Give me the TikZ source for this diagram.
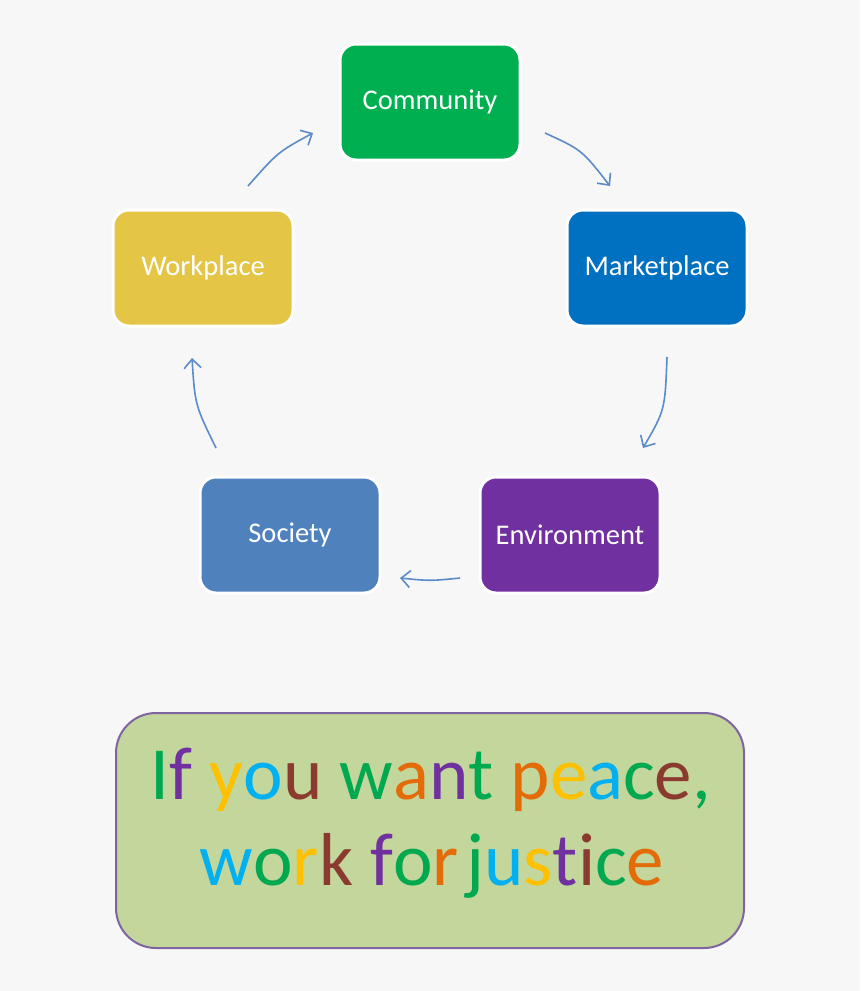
\documentclass[tikz,border=0pt]{standalone}
\usepackage{fontspec}
\setmainfont{Carlito}
\usetikzlibrary{arrows.meta}
\definecolor{bg}{HTML}{F7F7F7}
\definecolor{cgreen}{HTML}{00B050}
\definecolor{cblue}{HTML}{0070C0}
\definecolor{cyell}{HTML}{E5C546}
\definecolor{csoc}{HTML}{4F81BD}
\definecolor{cpurp}{HTML}{7030A0}
\definecolor{arr}{HTML}{5B8BC9}
\definecolor{pfill}{HTML}{C3D69B}
\definecolor{pline}{HTML}{8064A2}
\definecolor{lgreen}{HTML}{00A84F}
\definecolor{lpurp}{HTML}{7030A0}
\definecolor{lyell}{HTML}{FFC000}
\definecolor{lcyan}{HTML}{00B0F0}
\definecolor{lbrown}{HTML}{8B3A2F}
\definecolor{lorange}{HTML}{E36C09}
\newcommand{\cl}[2]{\textcolor{#1}{#2}}
\tikzset{
  stagebox/.style={draw=white, line width=3pt, rounded corners=16pt,
    minimum width=180pt, minimum height=116pt, text=white,
    font=\fontsize{28.5}{32}\selectfont},
  cyc/.style={draw=arr, line width=1.6pt, -{Straight Barb[length=9pt,width=17pt]}},
  quotetext/.style={anchor=base, font=\fontsize{75}{88}\selectfont},
}
\begin{document}
\begin{tikzpicture}[x=1pt,y=-1pt]
\fill[bg] (0,0) rectangle (860,991);
\useasboundingbox (0,0) rectangle (860,991);
\node[stagebox, fill=cgreen] (com) at (430,102) {Community};
\node[stagebox, fill=cblue] (mar) at (657,268) {Marketplace};
\node[stagebox, fill=cyell] (wor) at (203,268) {Workplace};
\node[stagebox, fill=csoc] (soc) at (290,535) {Society};
\node[stagebox, fill=cpurp] (env) at (570,535) {Environment};
\coordinate (a1s) at (248,186); \coordinate (a1e) at (313,133);
\coordinate (a2s) at (545,133); \coordinate (a2e) at (610,186);
\coordinate (a3s) at (667,357); \coordinate (a3e) at (643,448);
\coordinate (a4s) at (460,578); \coordinate (a4e) at (400,578);
\coordinate (a5s) at (216,448); \coordinate (a5e) at (192,358);
\draw[cyc] (a1s) .. controls (278,152) .. (a1e);
\draw[cyc] (a2s) .. controls (582,150) .. (a2e);
\draw[cyc] (a3s) .. controls (665,410) .. (a3e);
\draw[cyc] (a4s) .. controls (430,581) .. (a4e);
\draw[cyc] (a5s) .. controls (195,405) .. (a5e);
\node[draw=pline, line width=2pt, fill=pfill, rounded corners=40pt,
  minimum width=628pt, minimum height=235pt] (quote) at (430,830.5) {};
\node[quotetext] (l1) at (431,799)
  {\cl{lgreen}{I}\cl{lpurp}{f} \cl{lyell}{y}\cl{lcyan}{o}\cl{lbrown}{u}
   \cl{lgreen}{w}\cl{lorange}{a}\cl{lpurp}{n}\cl{lgreen}{t}
   \cl{lorange}{p}\cl{lyell}{e}\cl{lcyan}{a}\cl{lgreen}{c}\cl{lbrown}{e}\cl{lgreen}{,}};
\node[quotetext] (l2) at (432,885)
  {\cl{lcyan}{w}\cl{lgreen}{o}\cl{lyell}{r}\cl{lbrown}{k}
   \cl{lpurp}{f}\cl{lgreen}{o}\cl{lorange}{r}\hspace{0.1em}\cl{lgreen}{j}\cl{lcyan}{u}\cl{lyell}{s}\cl{lpurp}{t}\cl{lbrown}{i}\cl{lgreen}{c}\cl{lorange}{e}};
\end{tikzpicture}
\end{document}
